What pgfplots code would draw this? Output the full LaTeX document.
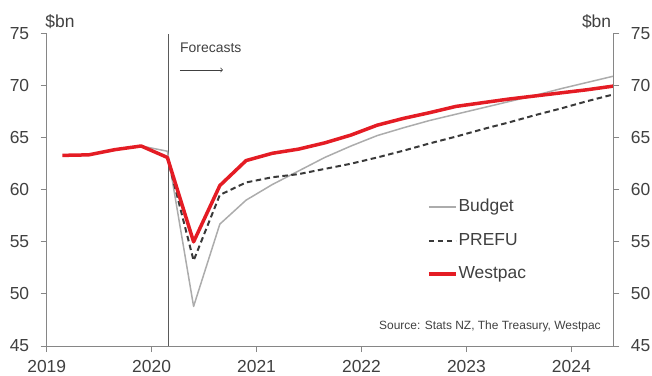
\documentclass[border=0pt]{standalone}
\usepackage{fontspec}
\setmainfont{Liberation Sans}
\usepackage{pgfplots}
\pgfplotsset{compat=1.18}

\definecolor{wred}{RGB}{228,28,36}
\definecolor{budgetgrey}{RGB}{172,172,172}
\definecolor{prefudark}{RGB}{58,58,58}
\definecolor{axisgrey}{RGB}{134,134,134}
\definecolor{txt}{RGB}{64,64,64}

\pgfplotsset{
  common/.style={
    scale only axis, width=566.6bp, height=312.5bp,
    xmin=2019, xmax=2024.40, ymin=45, ymax=75,
    tick align=outside, major tick length=6bp,
    tick style={axisgrey, line width=0.9bp},
    axis line style={axisgrey, line width=0.9bp, -},
    every outer x axis line/.append style={-},
    every outer y axis line/.append style={-},
    ticklabel style={font=\fontsize{17.5}{20}\selectfont, text=txt},
    /pgf/number format/assume math mode=true,
    /pgf/number format/1000 sep={},
    ytick={45,50,...,75},
    clip=false,
  }
}

\begin{document}
\begin{tikzpicture}
\begin{axis}[common,
  axis x line*=bottom, axis y line*=left,
  xtick={2019,2020,...,2024},
  xticklabel style={yshift=-5bp},
  yticklabel style={xshift=-8bp},
  legend cell align=left,
  legend image code/.code={\draw[#1] (0bp,0bp) -- (27bp,0bp);},
  legend style={draw=none, fill=none, at={(0.671,0.337)}, anchor=west,
    inner sep=0pt, row sep=14.5bp,
    font=\fontsize{17.5}{20}\selectfont, text=txt,
    nodes={inner sep=1bp, text height=13bp, text depth=4bp}},
]
% forecast start marker
\draw[color={rgb,255:red,90;green,90;blue,90}, line width=1bp]
  (axis cs:2020.16,45) -- (axis cs:2020.16,75);

% Budget
\addplot[budgetgrey, line width=1.5bp, line join=round] coordinates {
  (2019.90,64.2) (2020.15,63.7) (2020.40,48.8) (2020.65,56.7) (2020.90,59.0)
  (2021.15,60.5) (2021.40,61.8) (2021.65,63.1) (2021.90,64.2) (2022.15,65.2)
  (2022.40,65.95) (2022.65,66.65) (2022.90,67.25) (2023.15,67.85) (2023.40,68.45)
  (2023.65,69.05) (2023.90,69.7) (2024.15,70.3) (2024.40,70.9)
};
\addlegendentry{Budget}

% PREFU
\addplot[prefudark, line width=2bp, dash pattern=on 5.5bp off 3.5bp, line join=round] coordinates {
  (2020.15,63.1) (2020.40,53.2) (2020.65,59.5) (2020.90,60.7) (2021.15,61.2)
  (2021.40,61.5) (2021.65,62.0) (2021.90,62.5) (2022.15,63.1) (2022.40,63.75)
  (2022.65,64.45) (2022.90,65.1) (2023.15,65.8) (2023.40,66.45) (2023.65,67.15)
  (2023.90,67.8) (2024.15,68.5) (2024.40,69.15)
};
\addlegendentry{PREFU}

% Westpac
\addplot[wred, line width=3.5bp, line join=round] coordinates {
  (2019.15,63.3) (2019.40,63.35) (2019.65,63.85) (2019.90,64.2) (2020.15,63.1)
  (2020.40,55.0) (2020.65,60.4) (2020.90,62.8) (2021.15,63.5) (2021.40,63.9)
  (2021.65,64.5) (2021.90,65.25) (2022.15,66.2) (2022.40,66.85) (2022.65,67.4)
  (2022.90,68.0) (2023.15,68.35) (2023.40,68.7) (2023.65,69.0) (2023.90,69.3)
  (2024.15,69.6) (2024.40,69.95)
};
\addlegendentry{Westpac}

\node[anchor=west, inner sep=0pt, font=\fontsize{17.5}{20}\selectfont, text=txt]
  at (rel axis cs:0,1) [xshift=-1.5bp, yshift=11.5bp] {\$bn};
\node[anchor=east, inner sep=0pt, font=\fontsize{17.5}{20}\selectfont, text=txt]
  at (rel axis cs:1,1) [xshift=-2bp, yshift=11.5bp] {\$bn};
\node[anchor=west, inner sep=0pt, font=\fontsize{14}{16}\selectfont, text=txt]
  at (axis cs:2020.27,73.6) {Forecasts};
\draw[->, txt, line width=0.8bp] (axis cs:2020.27,71.5) -- (axis cs:2020.68,71.5);
\node[anchor=east, inner sep=0pt, font=\fontsize{12}{14}\selectfont, text=txt]
  at (rel axis cs:0.978,0.062) {Source: Stats NZ, The Treasury, Westpac};
\end{axis}

\begin{axis}[common,
  axis x line=none, axis y line*=right,
  yticklabel style={xshift=8bp},
]
\end{axis}

\pgfresetboundingbox
\path (-46.7bp,-30bp) rectangle (605.3bp,346bp);
\end{tikzpicture}
\end{document}
